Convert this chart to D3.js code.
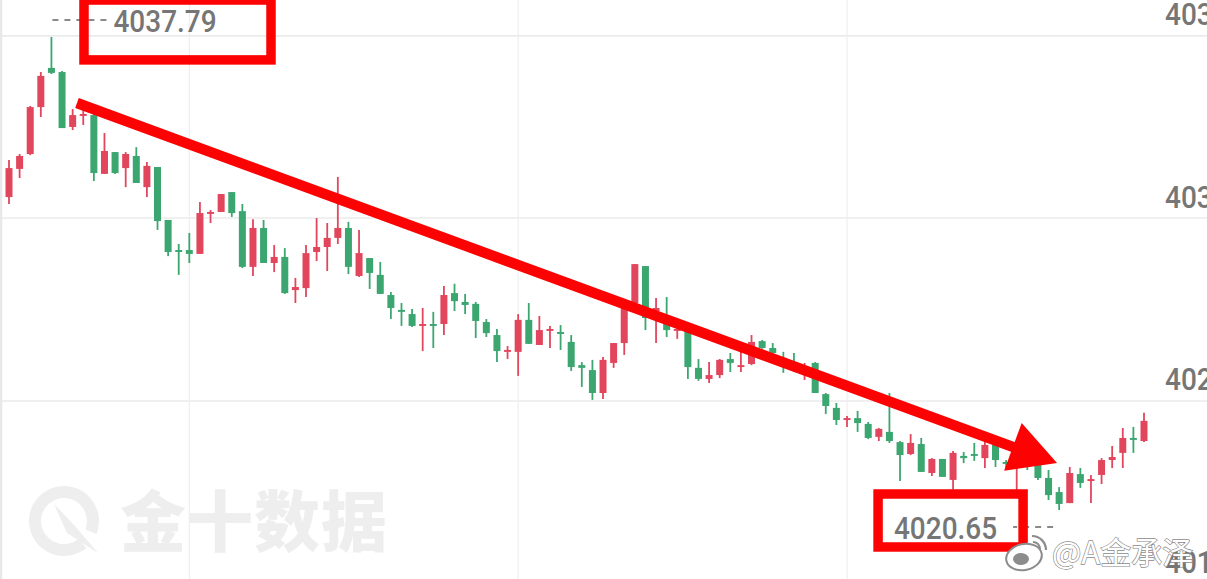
<!DOCTYPE html>
<html><head><meta charset="utf-8">
<script src="https://cdn.jsdelivr.net/npm/d3@7"></script>
<style>html,body{margin:0;padding:0;background:#fff;overflow:hidden}</style>
</head><body><svg id="c" width="1207" height="579"></svg>
<script>
// ---- data (prices) ----
const openP = [4031.99,4033.01,4033.55,4035.25,4036.67,4036.52,4034.53,4034.93,4034.96,4032.83,4033.62,4033.04,4033.48,4032.35,4033.08,4031.16,4030.07,4030.07,4029.93,4031.38,4031.45,4032.17,4031.48,4029.46,4030.87,4029.60,4029.82,4028.62,4028.69,4030.00,4030.18,4030.51,4030.87,4029.13,4029.78,4029.17,4028.44,4027.90,4027.75,4027.32,4027.39,4027.39,4028.51,4028.19,4028.12,4027.46,4026.99,4026.38,4026.38,4027.54,4026.63,4027.14,4027.10,4026.74,4025.90,4025.72,4024.89,4025.98,4026.70,4028.15,4029.49,4027.86,4027.43,4027.14,4027.17,4025.80,4025.40,4025.54,4026.12,4025.83,4025.94,4026.77,4026.52,4026.16,4026.01,4025.65,4025.98,4024.85,4024.35,4023.91,4023.98,4023.77,4023.30,4023.48,4023.11,4022.68,4023.04,4021.99,4022.50,4021.74,4022.61,4022.68,4022.53,4023.01,4022.39,4022.24,4022.43,4022.28,4021.81,4021.30,4020.90,4021.95,4021.70,4021.92,4022.46,4022.72,4023.26,4023.15];
const highP = [4033.33,4033.55,4035.29,4036.52,4037.79,4036.56,4035.18,4035.18,4035.04,4034.31,4033.62,4033.62,4033.80,4033.26,4033.08,4031.16,4030.29,4030.69,4031.81,4031.52,4032.10,4032.17,4031.74,4031.19,4031.16,4030.25,4030.14,4029.06,4030.25,4031.23,4031.05,4032.72,4031.09,4030.80,4029.78,4029.64,4028.55,4028.15,4027.93,4027.97,4027.83,4028.77,4028.85,4028.48,4028.19,4027.57,4027.21,4026.59,4027.75,4028.15,4027.68,4027.32,4027.35,4026.99,4026.01,4026.09,4026.19,4026.70,4028.01,4029.56,4029.49,4028.33,4028.37,4027.25,4027.25,4026.12,4026.01,4026.12,4026.34,4026.52,4026.99,4026.81,4026.70,4026.38,4026.34,4025.98,4026.01,4024.89,4024.53,4024.06,4024.24,4023.84,4023.62,4024.89,4023.15,4023.40,4023.26,4022.53,4022.50,4022.79,4022.75,4023.08,4023.19,4023.08,4022.46,4022.64,4022.53,4022.35,4022.10,4021.48,4022.21,4022.17,4021.92,4022.53,4022.97,4023.62,4023.66,4024.17];
const lowP = [4031.74,4032.68,4033.51,4034.89,4036.45,4034.49,4034.42,4034.60,4032.57,4032.83,4032.83,4032.35,4032.50,4031.99,4030.80,4029.85,4029.17,4029.60,4029.93,4031.05,4031.45,4031.27,4029.42,4029.13,4029.60,4029.27,4028.48,4028.15,4028.37,4029.67,4029.31,4030.29,4029.20,4029.09,4028.66,4028.48,4027.57,4027.32,4027.28,4026.41,4026.52,4026.99,4027.86,4027.75,4026.88,4026.92,4026.01,4026.12,4025.51,4026.67,4026.63,4026.52,4026.45,4025.69,4025.11,4024.64,4024.67,4025.80,4026.27,4028.15,4027.17,4026.70,4026.92,4026.85,4025.40,4025.33,4025.25,4025.43,4025.65,4025.65,4025.90,4026.49,4026.09,4025.62,4025.65,4025.36,4024.89,4024.13,4023.73,4023.66,4023.48,4023.22,4023.15,4023.08,4021.70,4022.64,4022.03,4021.88,4021.85,4021.38,4022.35,4022.43,4022.17,4022.21,4022.17,4021.27,4022.10,4021.74,4021.01,4020.65,4020.90,4021.45,4020.90,4021.59,4022.17,4022.17,4022.72,4023.11];
const closeP = [4033.04,4033.48,4035.25,4036.38,4036.49,4034.49,4034.96,4035.00,4032.86,4033.66,4032.86,4033.55,4032.50,4033.12,4031.12,4030.00,4030.00,4029.93,4031.41,4031.45,4032.10,4031.41,4029.46,4030.87,4029.60,4029.82,4028.51,4028.73,4029.96,4030.18,4030.51,4030.87,4029.46,4029.96,4029.24,4028.48,4027.97,4027.83,4027.32,4027.39,4027.32,4028.44,4028.22,4028.08,4027.50,4027.06,4026.41,4026.45,4027.54,4026.67,4027.17,4027.21,4027.03,4025.83,4025.80,4024.89,4026.09,4026.70,4028.01,4029.56,4027.61,4027.97,4027.17,4027.21,4025.83,4025.40,4025.54,4026.09,4025.98,4025.90,4026.74,4026.52,4026.34,4026.09,4025.94,4025.83,4024.89,4024.42,4023.91,4023.98,4023.80,4023.26,4023.59,4023.15,4022.64,4023.08,4022.03,4022.50,4021.85,4022.72,4022.53,4022.61,4023.01,4022.46,4022.32,4022.46,4022.24,4021.81,4021.19,4020.87,4021.99,4021.63,4021.77,4022.46,4022.57,4023.26,4023.19,4023.88];
const yTickValues = [4037.83, 4031.23, 4024.60, 4017.97];
const xGridIndex = [17, 48, 79];
const highLabel = "4037.79";
const lowLabel = "4020.65";
const watermarkText = "金十数据";
const weiboText = "@A金承泽";
// hand-drawn annotations, anchored in data space (candle index, price)
const arrowFrom = {i: 6.41, p: 4035.40};
const arrowTo   = {i: 98.80, p: 4022.35};
const boxTop    = {i0: 7.07, i1: 24.70, p0: 4039.13, p1: 4036.96};
const boxBottom = {i0: 81.93, i1: 95.60, p0: 4021.23, p1: 4019.31};

// ---- build ----
const W = 1207, H = 579;
const n = openP.length;
const candles = d3.range(n).map(i => ({i, o: openP[i], h: highP[i], l: lowP[i], c: closeP[i]}));
const svg = d3.select("#c");
const RED = "#e2465c", GREEN = "#3ba670", ANN = "#fd0202";

const x = d3.scaleLinear().domain([0, n - 1]).range([9, 1144]);
const pMax = d3.max(highP), pMin = d3.min(lowP);
const y = d3.scaleLinear().domain([pMin, pMax]).range([510, 37]);

svg.append("rect").attr("width", W).attr("height", H).attr("fill", "#fff");

// grid
svg.append("g").selectAll("line").data(yTickValues).join("line")
  .attr("x1", 0).attr("x2", W).attr("y1", d => y(d)).attr("y2", d => y(d))
  .attr("stroke", "#ebebeb").attr("stroke-width", 1.6);
svg.append("g").selectAll("line").data(xGridIndex).join("line")
  .attr("x1", d => x(d)).attr("x2", d => x(d)).attr("y1", 0).attr("y2", H)
  .attr("stroke", "#eeeeee").attr("stroke-width", 1.2);
svg.append("line").attr("x1", 1).attr("x2", 1).attr("y1", 0).attr("y2", H)
  .attr("stroke", "#e8e8e8").attr("stroke-width", 2.5);

// watermark 金十数据
const wm = svg.append("g").attr("fill", "#eeeeee");
const lc = {x: 64, y: 521};
const arc = d3.arc().innerRadius(23).outerRadius(35).startAngle(Math.PI * 0.78).endAngle(Math.PI * 2.62);
wm.append("path").attr("d", arc()).attr("transform", `translate(${lc.x},${lc.y})`);
wm.append("path").attr("d", `M${lc.x-10},${lc.y-17} L${lc.x+10},${lc.y+4} L${lc.x+34},${lc.y+32} L${lc.x+3},${lc.y+12} Z`);
wm.append("text").attr("x", 120).attr("y", 546)
  .attr("font-family", "'Noto Sans CJK SC', sans-serif").attr("font-weight", 900)
  .attr("font-size", 66).attr("letter-spacing", 1).text(watermarkText);

// candles
const g = svg.append("g");
const bw = 7;
g.selectAll("line").data(candles).join("line")
  .attr("x1", d => x(d.i)).attr("x2", d => x(d.i))
  .attr("y1", d => y(d.h)).attr("y2", d => y(d.l))
  .attr("stroke", d => d.c >= d.o ? RED : GREEN).attr("stroke-width", 1.8);
g.selectAll("rect").data(candles).join("rect")
  .attr("x", d => x(d.i) - bw / 2).attr("width", bw)
  .attr("y", d => y(Math.max(d.o, d.c)))
  .attr("height", d => Math.max(1.8, Math.abs(y(d.o) - y(d.c))))
  .attr("fill", d => d.c >= d.o ? RED : GREEN);

// high / low labels (slightly tall digits, like the DIN face of the reference)
const labFont = "Roboto, 'DejaVu Sans', sans-serif";
const SY = 1.12;
function tallText(parent, tx, ty, str, anchor) {
  return parent.append("text")
    .attr("transform", `translate(${tx},${ty}) scale(1,${SY})`)
    .attr("text-anchor", anchor || "start")
    .attr("font-family", labFont).attr("font-weight", 500).attr("font-size", 28).attr("fill", "#767676")
    .text(str);
}
const iMax = highP.indexOf(pMax), iMin = lowP.indexOf(pMin);
const yHi = y(pMax) - 17, yLo = y(pMin) + 17;
svg.append("line").attr("x1", x(iMax) + 1).attr("x2", x(iMax) + 56).attr("y1", yHi).attr("y2", yHi)
  .attr("stroke", "#8a8a8a").attr("stroke-width", 2).attr("stroke-dasharray", "6,6");
tallText(svg, x(iMax) + 62, yHi + 11.5, highLabel);
svg.append("line").attr("x1", x(iMin) - 6).attr("x2", x(iMin) - 46).attr("y1", yLo).attr("y2", yLo)
  .attr("stroke", "#8a8a8a").attr("stroke-width", 2).attr("stroke-dasharray", "6,6");
tallText(svg, x(iMin) - 62, yLo + 11.5, lowLabel, "end");

// price axis labels (clipped by the right edge)
const axisG = svg.append("g");
yTickValues.forEach(v => tallText(axisG, 1165, y(v) - 10.5, v.toFixed(2)));

// annotations
const ann = svg.append("g");
[boxTop, boxBottom].forEach(b => {
  ann.append("rect").attr("x", x(b.i0)).attr("y", y(b.p0))
    .attr("width", x(b.i1) - x(b.i0)).attr("height", y(b.p1) - y(b.p0))
    .attr("fill", "none").attr("stroke", ANN).attr("stroke-width", 9.5);
});
const ax0 = x(arrowFrom.i), ay0 = y(arrowFrom.p), ax1 = x(arrowTo.i), ay1 = y(arrowTo.p);
const len = Math.hypot(ax1 - ax0, ay1 - ay0), ux = (ax1 - ax0) / len, uy = (ay1 - ay0) / len;
const headL = 47, headW = 25.5;
const bx = ax1 - ux * headL, by = ay1 - uy * headL;
ann.append("line").attr("x1", ax0).attr("y1", ay0).attr("x2", bx + ux * 2).attr("y2", by + uy * 2)
  .attr("stroke", ANN).attr("stroke-width", 10.5);
ann.append("path").attr("fill", ANN)
  .attr("d", `M${ax1},${ay1} L${bx - uy * headW},${by + ux * headW} L${bx + uy * headW},${by - ux * headW} Z`);

// weibo watermark
const wb = svg.append("g");
wb.append("ellipse").attr("cx", 1024).attr("cy", 557).attr("rx", 18).attr("ry", 13)
  .attr("transform", "rotate(-12,1024,557)").attr("fill", "#fff").attr("stroke", "#8c8c8c").attr("stroke-width", 2);
wb.append("ellipse").attr("cx", 1021).attr("cy", 559).attr("rx", 8).attr("ry", 6).attr("fill", "#8c8c8c");
wb.append("path").attr("d", "M1032,536 A14,14 0 0 1 1046,550").attr("fill", "none").attr("stroke", "#8c8c8c").attr("stroke-width", 2.2);
wb.append("path").attr("d", "M1033,542 A7,7 0 0 1 1040,549").attr("fill", "none").attr("stroke", "#8c8c8c").attr("stroke-width", 2);
wb.append("text").attr("x", 1052).attr("y", 564)
  .attr("font-family", "'Noto Sans CJK SC', sans-serif").attr("font-size", 31)
  .attr("fill", "#fff").attr("stroke", "#8a8a8a").attr("stroke-width", 1.3).attr("paint-order", "stroke")
  .text(weiboText);
</script></body></html>
